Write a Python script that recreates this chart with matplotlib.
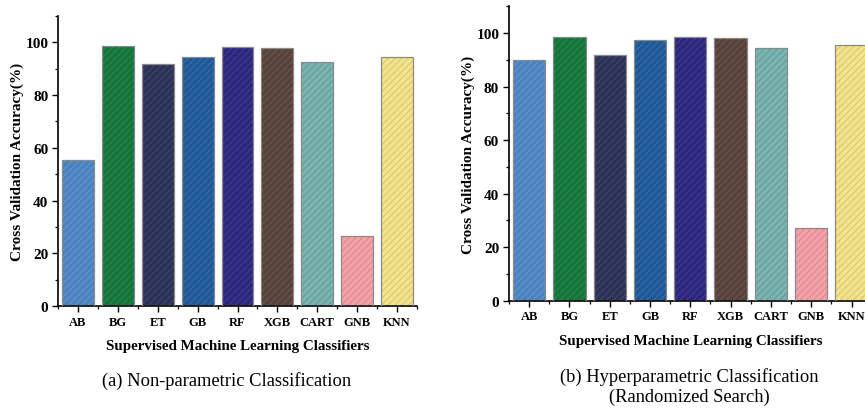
import matplotlib
matplotlib.use('Agg')
import matplotlib.pyplot as plt
from matplotlib.ticker import MultipleLocator
import numpy as np

classifiers = ['AB', 'BG', 'ET', 'GB', 'RF', 'XGB', 'CART', 'GNB', 'KNN']
acc_nonparam = [55.2, 98.6, 91.8, 94.4, 98.4, 98.0, 92.7, 26.4, 94.4]
acc_hyper = [90.1, 98.5, 91.9, 97.6, 98.4, 98.2, 94.6, 27.1, 95.4]

face_colors = ['#4a82be', '#14743a', '#2c3156', '#1f5896', '#2c277c',
               '#574239', '#7ab4b1', '#f2a2a7', '#f2e28c']
hatch_colors = ['#6b9dd2', '#2c8c52', '#464b72', '#3b74b0', '#47419a',
                '#705c52', '#5a9794', '#d9838c', '#d3c06a']

captions = ['(a) Non-parametric Classification',
            '(b) Hyperparametric Classification\n(Randomized Search)']

plt.rcParams['font.family'] = ['Liberation Serif', 'DejaVu Serif']
plt.rcParams['hatch.linewidth'] = 0.6

fig = plt.figure(figsize=(8.65, 4.10), dpi=100)
ax1 = fig.add_axes([0.0671, 0.2512, 0.415, 0.7073])
ax2 = fig.add_axes([0.5884, 0.2641, 0.4193, 0.718])


def draw_panel(ax, values):
    x = np.arange(len(classifiers))
    for i, v in enumerate(values):
        # hatch layer, then outline on top
        ax.bar(x[i], v, width=0.8, color=face_colors[i], edgecolor=hatch_colors[i],
               hatch='/////', linewidth=0, zorder=2)
        ax.bar(x[i], v, width=0.8, facecolor='none', edgecolor='#8a8a8a',
               linewidth=0.9, zorder=3)
    ax.set_xlim(-0.5, 8.5)
    ax.set_ylim(0, 110)
    ax.set_xticks(x)
    ax.set_xticklabels(classifiers, fontweight='bold', fontsize=9)
    ax.set_xticks(np.arange(-0.5, 9, 1), minor=True)
    ax.yaxis.set_major_locator(MultipleLocator(20))
    ax.yaxis.set_minor_locator(MultipleLocator(10))
    for lab in ax.get_yticklabels():
        lab.set_fontweight('bold')
        lab.set_fontsize(11)
    ax.tick_params(which='major', direction='out', length=4, width=1.0, pad=3)
    ax.tick_params(which='minor', direction='out', length=2, width=0.9)
    ax.spines['top'].set_visible(False)
    ax.spines['right'].set_visible(False)
    ax.spines['left'].set_linewidth(1.2)
    ax.spines['bottom'].set_linewidth(1.2)
    ax.set_ylabel('Cross Validation Accuracy(%)', fontweight='bold', fontsize=11, labelpad=1)
    ax.set_xlabel('Supervised Machine Learning Classifiers', fontweight='bold', fontsize=10.8,
                  labelpad=8)


draw_panel(ax1, acc_nonparam)
draw_panel(ax2, acc_hyper)

fig.text(0.262, 0.071, captions[0], ha='center', va='center', fontsize=13.3)
fig.text(0.7965, 0.056, captions[1], ha='center', va='center', fontsize=13.3, linespacing=1.25)

fig.savefig('out.png', dpi=100)
